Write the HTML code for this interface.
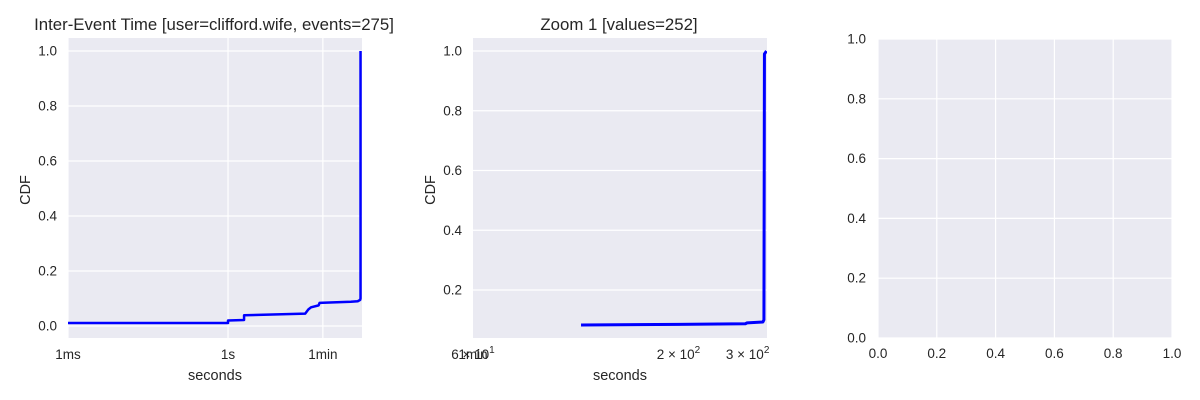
<!DOCTYPE html>
<html><head><meta charset="utf-8">
<style>
html,body{margin:0;padding:0;background:#fff;}
svg{display:block;font-family:"Liberation Sans",sans-serif;}
text{fill:#262626;}
</style></head>
<body>
<svg id="fig" width="1200" height="400" viewBox="0 0 1200 400" xmlns="http://www.w3.org/2000/svg"></svg>
<script>
// Panel 1 data (seconds, CDF)
const p1X = [0.001, 1.0, 1.0, 2.0, 2.0, 28, 32, 36, 50, 52, 200, 270, 300, 305, 305];
const p1Y = [0.011, 0.011, 0.02, 0.022, 0.039, 0.045, 0.06, 0.068, 0.075, 0.084, 0.088, 0.09, 0.095, 0.10, 1.0];
const p1XTicks = [0.001, 1, 60];
const p1XTickLabels = ["1ms", "1s", "1min"];
const p1YTicks = [0, 0.2, 0.4, 0.6, 0.8, 1.0];
const p1YTickLabels = ["0.0", "0.2", "0.4", "0.6", "0.8", "1.0"];
// Panel 2 data
const p2X = [113, 200, 296, 299, 328, 330, 331, 335];
const p2Y = [0.083, 0.085, 0.087, 0.09, 0.093, 0.10, 0.99, 1.0];
const p2XTicks = [60, 200, 300];
const p2XTickMantissa = ["6", "2", "3"];
const p2XTickExp = ["1", "2", "2"];
const p2YTicks = [0.2, 0.4, 0.6, 0.8, 1.0];
const p2YTickLabels = ["0.2", "0.4", "0.6", "0.8", "1.0"];
// Panel 3
const p3Ticks = [0, 0.2, 0.4, 0.6, 0.8, 1.0];
const p3TickLabels = ["0.0", "0.2", "0.4", "0.6", "0.8", "1.0"];

const NS = "http://www.w3.org/2000/svg";
const fig = document.getElementById('fig');
function mk(tag, attrs, parent){
  const e = document.createElementNS(NS, tag);
  for (const k in attrs) e.setAttribute(k, attrs[k]);
  (parent || fig).appendChild(e);
  return e;
}
function txt(s, attrs, parent){ const t = mk('text', attrs, parent); t.textContent = s; return t; }

function logScale(d0, d1, r0, r1){ return v => r0 + (Math.log10(v) - Math.log10(d0)) / (Math.log10(d1) - Math.log10(d0)) * (r1 - r0); }
function linScale(d0, d1, r0, r1){ return v => r0 + (v - d0) / (d1 - d0) * (r1 - r0); }

function panel(name, L, T, R, B){
  const g = mk('g', {});
  
  
  const bg = mk('rect', {x:L, y:T, width:R-L, height:B-T, fill:'#eaeaf2'}, g);
  
  
  return g;
}
function hgrid(g, ys, sy, L, R){ ys.forEach(v => { const l = mk('line', {x1:L, x2:R, y1:sy(v), y2:sy(v), stroke:'#fff', 'stroke-width':1.2}, g);   }); }
function vgrid(g, xs, sx, T, B){ xs.forEach(v => { const l = mk('line', {y1:T, y2:B, x1:sx(v), x2:sx(v), stroke:'#fff', 'stroke-width':1.2}, g);   }); }
function ylabels(g, ys, labels, sy, L){ ys.forEach((v,i) => { const t = txt(labels[i], {x:L-11, y:sy(v)+4.5, 'font-size':13.5, 'text-anchor':'end'}, g);   }); }
function xlabels(g, xs, labels, sx, B){ xs.forEach((v,i) => { const t = txt(labels[i], {x:sx(v), y:B+21, 'font-size':13.5, 'text-anchor':'middle'}, g);   }); }
function line(g, xs, ys, sx, sy, L, T, R, B, w){
  const pts = xs.map((x,i) => sx(x).toFixed(2) + ',' + sy(ys[i]).toFixed(2)).join(' ');
  const cid = 'clip' + Math.round(L);
  const cp = mk('clipPath', {id:cid}, g);
  mk('rect', {x:L, y:T-2, width:R-L, height:B-T+4}, cp);
  const p = mk('polyline', {points:pts, fill:'none', stroke:'#0000ff', 'stroke-width':w, 'stroke-linejoin':'round', 'clip-path':'url(#'+cid+')'}, g);
  
  
}

// Panel 1
{
  const L=68, T=38, R=362, B=338;
  const g = panel('inter-event-time-panel', L, T, R, B);
  const sx = logScale(0.001, 325, L, R);
  const sy = linScale(0, 1, 326, 51);
  hgrid(g, p1YTicks, sy, L, R);
  vgrid(g, p1XTicks, sx, T, B);
  line(g, p1X, p1Y, sx, sy, L, T, R, B, 2.5);
  ylabels(g, p1YTicks, p1YTickLabels, sy, L);
  xlabels(g, p1XTicks, p1XTickLabels, sx, B);
  let t = txt('Inter-Event Time [user=clifford.wife, events=275]', {x:214, y:30, 'font-size':16.8, 'text-anchor':'middle'}, g);
   
  t = txt('seconds', {x:215, y:380, 'font-size':14.5, 'text-anchor':'middle'}, g);
   
  t = txt('CDF', {x:0, y:0, 'font-size':14.5, 'text-anchor':'middle', transform:'translate(30,190) rotate(-90)'}, g);
   
}
// Panel 2
{
  const L=473, T=38, R=767, B=338;
  const g = panel('zoom-panel', L, T, R, B);
  const sx = logScale(60, 336, L, R);
  const sy = linScale(0, 1, 349.75, 51);
  hgrid(g, p2YTicks, sy, L, R);
  line(g, p2X, p2Y, sx, sy, L, T, R, B, 3);
  ylabels(g, p2YTicks, p2YTickLabels, sy, L);
  p2XTicks.forEach((v,i) => {
    const t = mk('text', {x:sx(v), y:B+21, 'font-size':13.5, 'text-anchor':'middle'}, g);
    
    
    const a = mk('tspan', {}, t); a.textContent = p2XTickMantissa[i] + ' \u00d7 10';
    const b = mk('tspan', {dy:-6, 'font-size':10}, t); b.textContent = p2XTickExp[i];
  });
  let t = txt('1min', {x:L, y:B+21, 'font-size':13.5, 'text-anchor':'middle'}, g);
   
  t = txt('Zoom 1 [values=252]', {x:619, y:30, 'font-size':16.8, 'text-anchor':'middle'}, g);
   
  t = txt('seconds', {x:620, y:380, 'font-size':14.5, 'text-anchor':'middle'}, g);
   
  t = txt('CDF', {x:0, y:0, 'font-size':14.5, 'text-anchor':'middle', transform:'translate(435,190) rotate(-90)'}, g);
   
}
// Panel 3
{
  const L=878, T=39, R=1172, B=338;
  const g = panel('empty-panel', L, T, R, B);
  const sx = linScale(0, 1, L, R);
  const sy = linScale(0, 1, B, T);
  hgrid(g, p3Ticks, sy, L, R);
  vgrid(g, p3Ticks, sx, T, B);
  ylabels(g, p3Ticks, p3TickLabels, sy, L - 1);
  xlabels(g, p3Ticks, p3TickLabels, sx, B - 1);
}
</script>
</body></html>
